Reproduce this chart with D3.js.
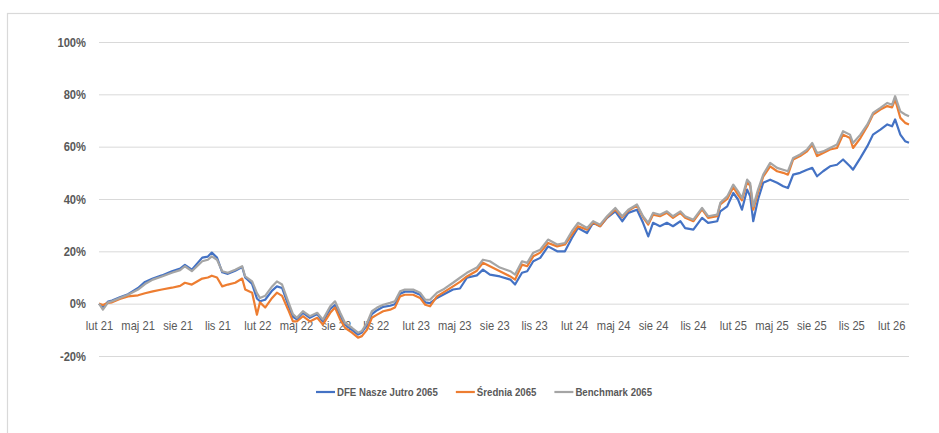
<!DOCTYPE html>
<html>
<head>
<meta charset="utf-8">
<script src="https://cdn.jsdelivr.net/npm/d3@7"></script>
<style>
  body { margin: 0; background: #fff; }
  text { font-family: "Liberation Sans", Arial, sans-serif; fill: #595959; }
</style>
</head>
<body>
<div id="chart"></div>
<script>
// ---- data (% return since start)
const dates = [
  "2021-02-01","2021-02-10","2021-02-22","2021-03-03","2021-03-21","2021-04-09","2021-05-02","2021-05-18",
  "2021-06-05","2021-06-26","2021-07-19","2021-08-07","2021-08-18","2021-09-03","2021-09-27","2021-10-10",
  "2021-10-19","2021-10-31","2021-11-12","2021-11-25","2021-12-12","2021-12-28","2022-01-04","2022-01-20",
  "2022-01-31","2022-02-07","2022-02-19","2022-03-07","2022-03-18","2022-03-30","2022-04-13","2022-04-24",
  "2022-05-03","2022-05-17","2022-06-02","2022-06-19","2022-07-02","2022-07-19","2022-07-30","2022-08-11",
  "2022-08-22","2022-09-07","2022-09-21","2022-09-30","2022-10-12","2022-10-23","2022-11-04","2022-11-18",
  "2022-12-04","2022-12-15","2022-12-27","2023-01-07","2023-01-26","2023-02-11","2023-02-23","2023-03-06",
  "2023-03-22","2023-04-05","2023-04-28","2023-05-14","2023-05-30","2023-06-22","2023-07-06","2023-07-22",
  "2023-08-14","2023-09-07","2023-09-18","2023-10-04","2023-10-16","2023-10-30","2023-11-15","2023-12-03",
  "2023-12-24","2024-01-11","2024-01-27","2024-02-10","2024-03-02","2024-03-16","2024-04-01","2024-04-17",
  "2024-05-06","2024-05-22","2024-06-05","2024-06-25","2024-07-09","2024-07-21","2024-08-01","2024-08-17",
  "2024-09-02","2024-09-16","2024-10-03","2024-10-14","2024-11-02","2024-11-22","2024-12-06","2024-12-27",
  "2025-01-03","2025-01-19","2025-02-02","2025-02-13","2025-02-22","2025-03-06","2025-03-13","2025-03-20",
  "2025-03-31","2025-04-12","2025-04-28","2025-05-14","2025-05-28","2025-06-08","2025-06-20","2025-07-06",
  "2025-07-22","2025-08-03","2025-08-14","2025-08-28","2025-09-13","2025-09-29","2025-10-13","2025-10-29",
  "2025-11-05","2025-11-22","2025-12-08","2025-12-21","2026-01-07","2026-01-23","2026-02-03","2026-02-10",
  "2026-02-22","2026-03-05","2026-03-14"
]

const dfe = [
  0,-1.5,0.8,1.2,2.4,3.6,6.0,8.3,
  9.6,10.8,12.4,13.4,14.8,13.0,17.6,18.0,
  19.5,17.6,12.0,11.4,12.6,14.0,10.0,7.5,
  2.0,0.9,1.5,5.0,6.6,6.0,-0.5,-5.0,
  -6.0,-3.5,-5.4,-4.0,-6.8,-2.0,-0.5,-4.5,
  -8.0,-10.0,-11.8,-11.0,-8.0,-4.0,-2.5,-1.2,
  -0.8,-0.2,3.8,4.6,4.6,3.4,0.5,0.2,
  2.2,3.4,5.4,5.8,9.9,10.8,13.0,11.1,
  10.4,9.2,7.3,11.8,12.4,16.2,17.5,21.9,
  20.0,20.0,25.1,28.9,27.0,30.9,29.6,32.8,
  35.3,31.5,34.7,35.9,30.9,25.7,30.9,29.6,
  30.9,29.6,31.5,28.9,28.3,32.8,30.9,31.5,
  35.3,37.2,42.3,39.8,35.9,43.6,41.0,31.5,
  39.8,46.2,47.4,46.2,44.9,44.2,49.3,50.0,
  51.2,51.9,48.7,50.6,52.5,53.1,55.1,52.5,
  51.2,55.7,60.2,64.6,66.5,68.5,67.8,70.4,
  64.6,62.1,61.5
]

const srednia = [
  0,-0.5,0.3,0.5,1.8,2.8,3.2,4.0,
  4.7,5.4,6.1,6.8,8.0,7.3,9.6,10.0,
  10.7,10.0,6.6,7.3,8.0,9.6,5.4,4.2,
  -4.2,0.5,-1.5,2.2,4.2,3.0,-2.3,-6.8,
  -6.8,-4.8,-6.8,-5.4,-8.0,-3.5,-1.5,-6.1,
  -9.2,-11.1,-13.0,-12.4,-9.9,-5.4,-4.2,-2.9,
  -2.3,-1.5,2.8,3.4,3.4,2.2,-0.4,-1.0,
  2.8,4.2,6.6,8.3,10.4,12.6,15.6,14.3,
  12.4,10.4,9.2,14.9,14.3,18.1,19.5,23.2,
  21.9,22.6,26.4,29.6,28.3,31.0,29.6,33.0,
  36.0,33.0,35.5,37.5,33.0,30.2,34.0,33.4,
  34.7,32.8,34.7,32.8,31.5,36.0,32.8,33.4,
  37.9,40.0,44.5,41.6,39.5,46.5,45.0,35.9,
  42.5,48.5,52.5,50.6,50.0,49.3,55.1,56.4,
  58.2,60.8,56.4,57.6,58.9,59.5,64.6,63.3,
  59.5,63.3,67.8,72.3,74.2,75.5,75.0,78.0,
  71.0,69.1,68.5
]

const benchmark = [
  0,-2.3,0.5,0.9,2.2,3.4,5.4,7.5,
  9.2,10.4,11.8,12.8,14.3,12.4,16.2,16.8,
  18.1,16.8,12.4,11.8,13.0,14.3,10.4,8.5,
  4.0,2.2,3.0,6.6,8.5,7.3,0.9,-4.0,
  -5.4,-2.9,-4.8,-3.5,-6.1,-1.0,0.9,-3.5,
  -7.3,-9.2,-11.1,-10.4,-7.3,-2.9,-1.5,-0.4,
  0.3,0.9,4.7,5.4,5.4,4.2,1.5,1.5,
  4.2,5.4,8.0,9.9,11.8,13.8,16.8,16.2,
  13.8,12.4,11.1,16.2,15.6,19.5,20.6,24.5,
  22.6,23.2,27.7,30.9,28.9,31.5,30.2,33.4,
  36.6,33.4,35.9,37.9,33.4,30.9,34.7,34.0,
  35.3,33.4,35.3,33.4,32.1,36.6,33.4,34.0,
  38.5,41.0,45.5,42.9,40.4,47.4,46.0,37.2,
  43.6,49.3,53.8,51.9,51.2,50.6,55.7,57.0,
  58.9,61.4,57.6,58.2,59.5,60.8,65.9,64.6,
  61.4,64.6,68.5,72.9,74.8,76.7,76.0,79.3,
  73.5,72.3,71.6
]

const seriesNames = ["DFE Nasze Jutro 2065", "Średnia 2065", "Benchmark 2065"]
const seriesColors = ["#4472C4", "#ED7D31", "#A5A5A5"]
const yTicks = [-20, 0, 20, 40, 60, 80, 100]
const tickDates = [
  "2021-02-01","2021-05-01","2021-08-01","2021-11-01","2022-02-01","2022-05-01","2022-08-01",
  "2022-11-01","2023-02-01","2023-05-01","2023-08-01","2023-11-01","2024-02-01","2024-05-01",
  "2024-08-01","2024-11-01","2025-02-01","2025-05-01","2025-08-01","2025-11-01","2026-02-01"
]
const monthsPl = ["sty","lut","mar","kwi","maj","cze","lip","sie","wrz","paź","lis","gru"]

// ---- dimensions
const width = 939, height = 433
const plot = { left: 99, right: 909, top: 42, bottom: 356 }
const squeeze = 0.86   // narrow the Arial-like font towards Calibri widths

const parse = d3.utcParse("%Y-%m-%d")
const series = [dfe, srednia, benchmark].map((vals, i) => ({
  name: seriesNames[i],
  color: seriesColors[i],
  values: vals.map((v, j) => ({ date: parse(dates[j]), value: v }))
}))

const svg = d3.select("#chart").append("svg")
  .attr("width", width)
  .attr("height", height)

// outer frame
svg.append("rect")
  .attr("x", 7.5).attr("y", 13.5)
  .attr("width", 960).attr("height", 460)
  .attr("fill", "none")
  .attr("stroke", "#d9d9d9")
  .attr("stroke-width", 1.2)

// ---- scales
const x = d3.scaleUtc()
  .domain([parse(dates[0]), parse(dates[dates.length - 1])])
  .range([plot.left, plot.right])

const y = d3.scaleLinear()
  .domain([-20, 100])
  .range([plot.bottom, plot.top])

// ---- gridlines + y labels
const yAxis = svg.append("g")
  .attr("transform", `translate(${plot.left},0)`)
  .call(d3.axisLeft(y)
    .tickValues(yTicks)
    .tickSize(-(plot.right - plot.left))
    .tickPadding(0)
    .tickFormat(d => d + "%"))
yAxis.select(".domain").remove()
yAxis.selectAll("line").attr("stroke", "#d9d9d9").attr("stroke-width", 1)
yAxis.selectAll("text")
  .attr("x", 0)
  .attr("transform", `translate(-13,0) scale(${squeeze},1)`)
  .attr("font-size", 13)
  .attr("font-weight", "bold")
  .attr("fill", "#595959")

// ---- x labels along the zero line
const xAxis = svg.append("g")
  .attr("transform", `translate(0,${y(0)})`)
  .call(d3.axisBottom(x)
    .tickValues(tickDates.map(parse))
    .tickSize(0)
    .tickPadding(17)
    .tickFormat(d => monthsPl[d.getUTCMonth()] + " " + String(d.getUTCFullYear()).slice(2)))
xAxis.select(".domain").remove()
xAxis.selectAll("text")
  .attr("transform", `scale(${squeeze},1)`)
  .attr("font-size", 13)
  .attr("fill", "#595959")

// ---- lines
const line = d3.line()
  .x(d => x(d.date))
  .y(d => y(d.value))

svg.append("g")
  .selectAll("path")
  .data(series)
  .join("path")
  .attr("d", d => line(d.values))
  .attr("fill", "none")
  .attr("stroke", d => d.color)
  .attr("stroke-width", 2.2)
  .attr("stroke-linejoin", "round")

// ---- legend
const legend = svg.append("g").attr("transform", "translate(316,392)")
let lx = 0
series.forEach(s => {
  const item = legend.append("g").attr("transform", `translate(${lx},0)`)
  item.append("line")
    .attr("x1", 0).attr("x2", 19)
    .attr("y1", 0).attr("y2", 0)
    .attr("stroke", s.color)
    .attr("stroke-width", 2.2)
  const t = item.append("text")
    .attr("transform", `translate(21,0) scale(0.84,1)`)
    .attr("dy", "0.35em")
    .attr("font-size", 11.5)
    .attr("font-weight", "bold")
    .text(s.name)
  lx += 21 + t.node().getComputedTextLength() * 0.84 + 18
})
</script>
</body>
</html>
